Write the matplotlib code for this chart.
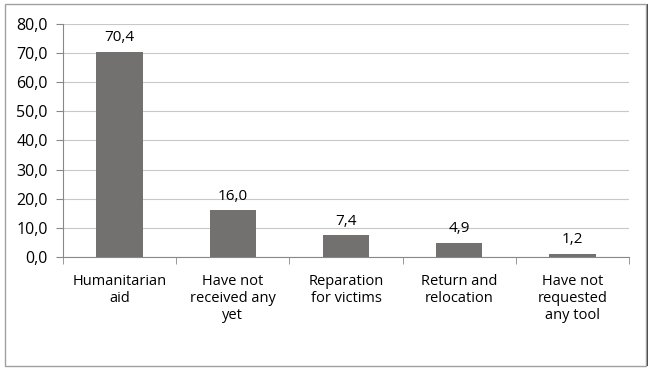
import matplotlib.pyplot as plt
from matplotlib.patches import Rectangle
import numpy as np

categories = ["Humanitarian\naid", "Have not\nreceived any\nyet", "Reparation\nfor victims",
              "Return and\nrelocation", "Have not\nrequested\nany tool"]
values = [70.4, 16.0, 7.4, 4.9, 1.2]
yticks = [0, 10, 20, 30, 40, 50, 60, 70, 80]

plt.rcParams['font.family'] = ['Open Sans', 'DejaVu Sans']

fig = plt.figure(figsize=(6.52, 3.69), dpi=100)
ax = fig.add_axes([0.0966, 0.3035, 0.868, 0.6315])

x = np.arange(len(values))
ax.bar(x, values, width=0.41, color="#737070", zorder=3)
for xi, v in zip(x, values):
    ax.text(xi, v + 2.3, f"{v:.1f}".replace(".", ","), ha="center", va="bottom", fontsize=11)

ax.set_xlim(-0.5, len(values) - 0.5)
ax.set_ylim(0, 80)
ax.set_yticks(yticks)
ax.set_yticklabels([f"{t:.1f}".replace(".", ",") for t in yticks], fontsize=11.5)
ax.yaxis.grid(True, color="#c8c8c8", lw=0.8, zorder=0)

ax.set_xticks(x)
ax.set_xticklabels(categories, fontsize=10.5, linespacing=1.2)
ax.set_xticks(np.arange(-0.5, len(values)), minor=True)
ax.tick_params(axis="x", which="major", length=0, pad=12)
ax.tick_params(axis="x", which="minor", length=5, color="#888888")
ax.tick_params(axis="y", length=5, color="#888888", pad=6)

for s in ["top", "right"]:
    ax.spines[s].set_visible(False)
for s in ["left", "bottom"]:
    ax.spines[s].set_color("#888888")
    ax.spines[s].set_linewidth(0.8)

# outer frame
fig.patches.append(Rectangle((5 / 652, 3 / 369), 641 / 652, 362 / 369, transform=fig.transFigure,
                             fill=False, edgecolor="#a0a0a0", lw=1))
fig.patches.append(Rectangle((647 / 652, 3 / 369), 0.002, 362 / 369, transform=fig.transFigure,
                             fill=True, color="#505050", lw=0))

fig.savefig("out.png", dpi=100)
